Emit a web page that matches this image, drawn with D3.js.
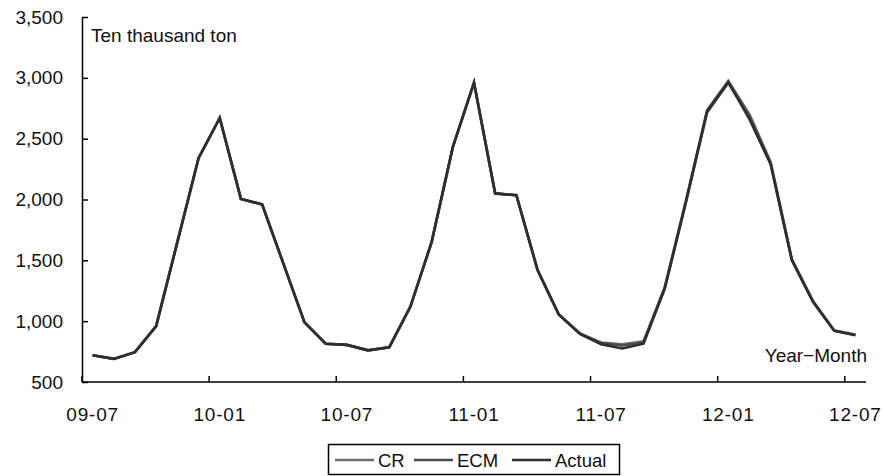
<!DOCTYPE html>
<html>
<head>
<meta charset="utf-8">
<script src="https://cdn.jsdelivr.net/npm/d3@7"></script>
<style>
  html, body { margin: 0; padding: 0; background: #fff; }
  svg { display: block; }
  text { font-family: "Liberation Sans", Arial, sans-serif; fill: #111; }
</style>
</head>
<body>
<svg id="chart" width="885" height="476"></svg>
<script>
// Monthly volume, Jul 2009 – Jul 2012 (ten thousand ton)
const months = [
  "09-07","09-08","09-09","09-10","09-11","09-12",
  "10-01","10-02","10-03","10-04","10-05","10-06",
  "10-07","10-08","10-09","10-10","10-11","10-12",
  "11-01","11-02","11-03","11-04","11-05","11-06",
  "11-07","11-08","11-09","11-10","11-11","11-12",
  "12-01","12-02","12-03","12-04","12-05","12-06",
  "12-07"
];

const actual = [
  720, 690, 745, 960, 1650, 2340,
  2670, 2005, 1960, 1475, 990, 815,
  805, 760, 785, 1120, 1650, 2430,
  2960, 2050, 2035, 1420, 1055, 895,
  810, 775, 815, 1270, 1980, 2725,
  2965, 2660, 2290, 1500, 1160, 920,
  885
];

const cr = [
  720, 690, 745, 960, 1650, 2340,
  2670, 2005, 1960, 1475, 990, 815,
  805, 760, 785, 1120, 1650, 2430,
  2960, 2050, 2035, 1420, 1055, 900,
  825, 810, 835, 1280, 1990, 2735,
  2975, 2700, 2310, 1510, 1165, 925,
  890
];

const ecm = [
  720, 690, 745, 960, 1650, 2340,
  2670, 2005, 1960, 1475, 990, 815,
  805, 760, 785, 1120, 1650, 2430,
  2960, 2050, 2035, 1420, 1055, 897,
  820, 800, 825, 1265, 1975, 2715,
  2960, 2685, 2295, 1505, 1160, 922,
  887
];

const yTicks = [500, 1000, 1500, 2000, 2500, 3000, 3500];
const xLabels = ["09-07", "10-01", "10-07", "11-01", "11-07", "12-01", "12-07"];

const series = [
  { name: "CR", values: cr, color: "#6e6e6e" },
  { name: "ECM", values: ecm, color: "#4a4a4a" },
  { name: "Actual", values: actual, color: "#2e2e2e" }
];

const svg = d3.select("#chart");
const plotLeft = 82, plotRight = 866, plotTop = 17, plotBottom = 382;

const x = d3.scaleBand().domain(months).range([plotLeft, plotRight]).padding(0);
const y = d3.scaleLinear().domain([500, 3500]).range([plotBottom, plotTop]);

const fmt = d3.format(",");

// Y axis: ticks pointing inward, labels on the left
const yAxis = d3.axisLeft(y)
  .tickValues(yTicks)
  .tickSizeInner(-6)
  .tickSizeOuter(0)
  .tickPadding(19)
  .tickFormat(fmt);

const gy = svg.append("g").attr("transform", `translate(${plotLeft},0)`).call(yAxis);
gy.select(".domain").attr("stroke", "#000").attr("stroke-width", 1.5);
gy.selectAll(".tick line").attr("stroke", "#000").attr("stroke-width", 1.5);
gy.selectAll(".tick text")
  .style("font-family", "'Liberation Sans', Arial, sans-serif")
  .style("font-size", "19px")
  .attr("fill", "#111");

// X axis: ticks at category boundaries every six months, labels centered on the months
const gx = svg.append("g").attr("transform", `translate(0,${plotBottom})`);
gx.append("line")
  .attr("x1", plotLeft).attr("x2", plotRight)
  .attr("y1", 0).attr("y2", 0)
  .attr("stroke", "#000").attr("stroke-width", 1.5);

gx.selectAll("line.tk")
  .data(xLabels)
  .join("line")
  .attr("class", "tk")
  .attr("x1", d => x(d)).attr("x2", d => x(d))
  .attr("y1", 0).attr("y2", -6)
  .attr("stroke", "#000").attr("stroke-width", 1.5);

gx.selectAll("text.lbl")
  .data(xLabels)
  .join("text")
  .attr("class", "lbl")
  .attr("x", d => x(d) + x.bandwidth() / 2)
  .attr("y", 39)
  .attr("text-anchor", "middle")
  .style("font-size", "19px")
  .style("letter-spacing", "0.8px")
  .text(d => d);

// Series lines
const line = d3.line()
  .x((d, i) => x(months[i]) + x.bandwidth() / 2)
  .y(d => y(d));

svg.append("g").selectAll("path")
  .data(series)
  .join("path")
  .attr("d", d => line(d.values))
  .attr("fill", "none")
  .attr("stroke", d => d.color)
  .attr("stroke-width", 2.6)
  .attr("stroke-linejoin", "miter");

// Axis titles
svg.append("text")
  .attr("x", 91).attr("y", 42)
  .style("font-size", "19px")
  .text("Ten thausand ton");

svg.append("text")
  .attr("x", 867).attr("y", 362)
  .attr("text-anchor", "end")
  .style("font-size", "19px")
  .text("Year\u2212Month");

// Legend
const legend = svg.append("g");
legend.append("rect")
  .attr("x", 328.5).attr("y", 444.5)
  .attr("width", 291).attr("height", 30)
  .attr("fill", "#fff").attr("stroke", "#000").attr("stroke-width", 1.5);

const legendPos = [335, 414, 512];
const item = legend.selectAll("g.item")
  .data(series)
  .join("g")
  .attr("class", "item")
  .attr("transform", (d, i) => `translate(${legendPos[i]},460)`);

item.append("line")
  .attr("x1", 0).attr("x2", 39)
  .attr("y1", 0).attr("y2", 0)
  .attr("stroke", d => d.color)
  .attr("stroke-width", 2.4);

item.append("text")
  .attr("x", 43).attr("y", 7)
  .style("font-size", "18.5px")
  .text(d => d.name);
</script>
</body>
</html>
